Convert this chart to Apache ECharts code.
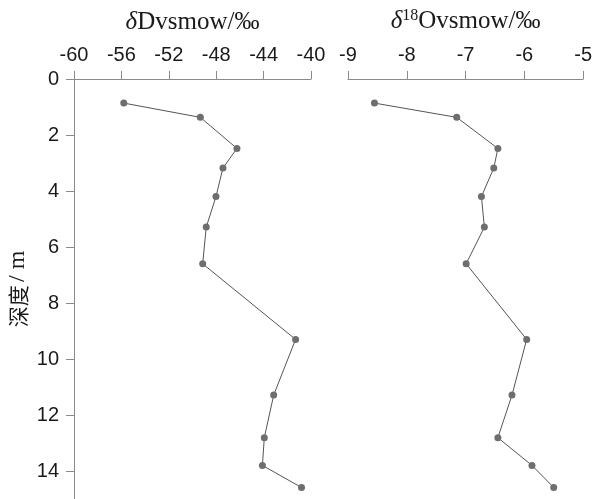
<!DOCTYPE html>
<html>
<head>
<meta charset="utf-8">
<script src="https://cdn.jsdelivr.net/npm/echarts@6/dist/echarts.min.js"></script>
<style>
  html, body { margin: 0; padding: 0; background: #fff; }
  #chart { width: 595px; height: 499px; }
</style>
</head>
<body>
<div id="chart"></div>
<script>
const depth = [0.86, 1.37, 2.48, 3.18, 4.2, 5.29, 6.6, 9.3, 11.29, 12.81, 13.8, 14.59];
const deltaD = [-55.8, -49.34, -46.25, -47.43, -48.02, -48.84, -49.14, -41.3, -43.15, -43.94, -44.1, -40.8];
const delta18O = [-8.55, -7.15, -6.45, -6.52, -6.73, -6.68, -6.99, -5.96, -6.21, -6.45, -5.87, -5.5];

const chart = echarts.init(document.getElementById("chart"));

const axisGray = "#8a8a8a";
const labelStyle = { color: "#1a1a1a", fontSize: 20, fontFamily: "Liberation Sans, Arial, sans-serif" };
const titleRich = {
  d: { fontFamily: "Liberation Serif, serif", fontStyle: "italic", fontSize: 25, color: "#1a1a1a" },
  t: { fontFamily: "Liberation Serif, serif", fontSize: 25, color: "#1a1a1a" },
  sup: { fontFamily: "Liberation Serif, serif", fontSize: 16, color: "#1a1a1a", verticalAlign: "bottom", padding: [0, 0, 11, 0] }
};

function topAxis(grid, min, max, interval, name) {
  return {
    type: "value",
    gridIndex: grid,
    position: "top",
    min, max, interval,
    name,
    nameLocation: "middle",
    nameGap: 44,
    nameTextStyle: { rich: titleRich },
    axisLine: { show: true, lineStyle: { color: axisGray, width: 1 } },
    axisTick: { show: true, inside: false, length: 8, lineStyle: { color: axisGray } },
    axisLabel: Object.assign({ margin: 14 }, labelStyle),
    splitLine: { show: false }
  };
}

function depthAxis(grid, visible) {
  return {
    type: "value",
    gridIndex: grid,
    inverse: true,
    min: 0, max: 15, interval: 2,
    show: visible,
    name: visible ? "{c|深度} {l|/ m}" : "",
    nameLocation: "middle",
    nameGap: 44,
    nameTextStyle: {
      rich: {
        c: { fontSize: 21, color: "#1a1a1a", fontFamily: "Noto Sans CJK SC, sans-serif" },
        l: { fontSize: 24, color: "#1a1a1a", fontFamily: "Liberation Serif, serif" }
      }
    },
    axisLine: { show: true, onZero: false, lineStyle: { color: axisGray, width: 1 } },
    axisTick: { show: true, length: 8, lineStyle: { color: axisGray } },
    axisLabel: Object.assign({ margin: 15, showMaxLabel: false }, labelStyle),
    splitLine: { show: false }
  };
}

function profile(xs, idx) {
  return {
    type: "line",
    xAxisIndex: idx,
    yAxisIndex: idx,
    data: xs.map((v, i) => [v, depth[i]]),
    symbol: "circle",
    symbolSize: 7,
    itemStyle: { color: "#6e6e6e" },
    lineStyle: { color: "#555", width: 1 },
    animation: false
  };
}

chart.setOption({
  backgroundColor: "#fff",
  grid: [
    { left: 74, top: 79, width: 237, height: 421 },
    { left: 348, top: 79, width: 236, height: 421 }
  ],
  xAxis: [
    topAxis(0, -60, -40, 4, "{d|δ}{t|Dvsmow/‰}"),
    topAxis(1, -9, -5, 1, "{d|δ}{sup|18}{t|Ovsmow/‰}")
  ],
  yAxis: [depthAxis(0, true), depthAxis(1, false)],
  series: [profile(deltaD, 0), profile(delta18O, 1)]
});
</script>
</body>
</html>
